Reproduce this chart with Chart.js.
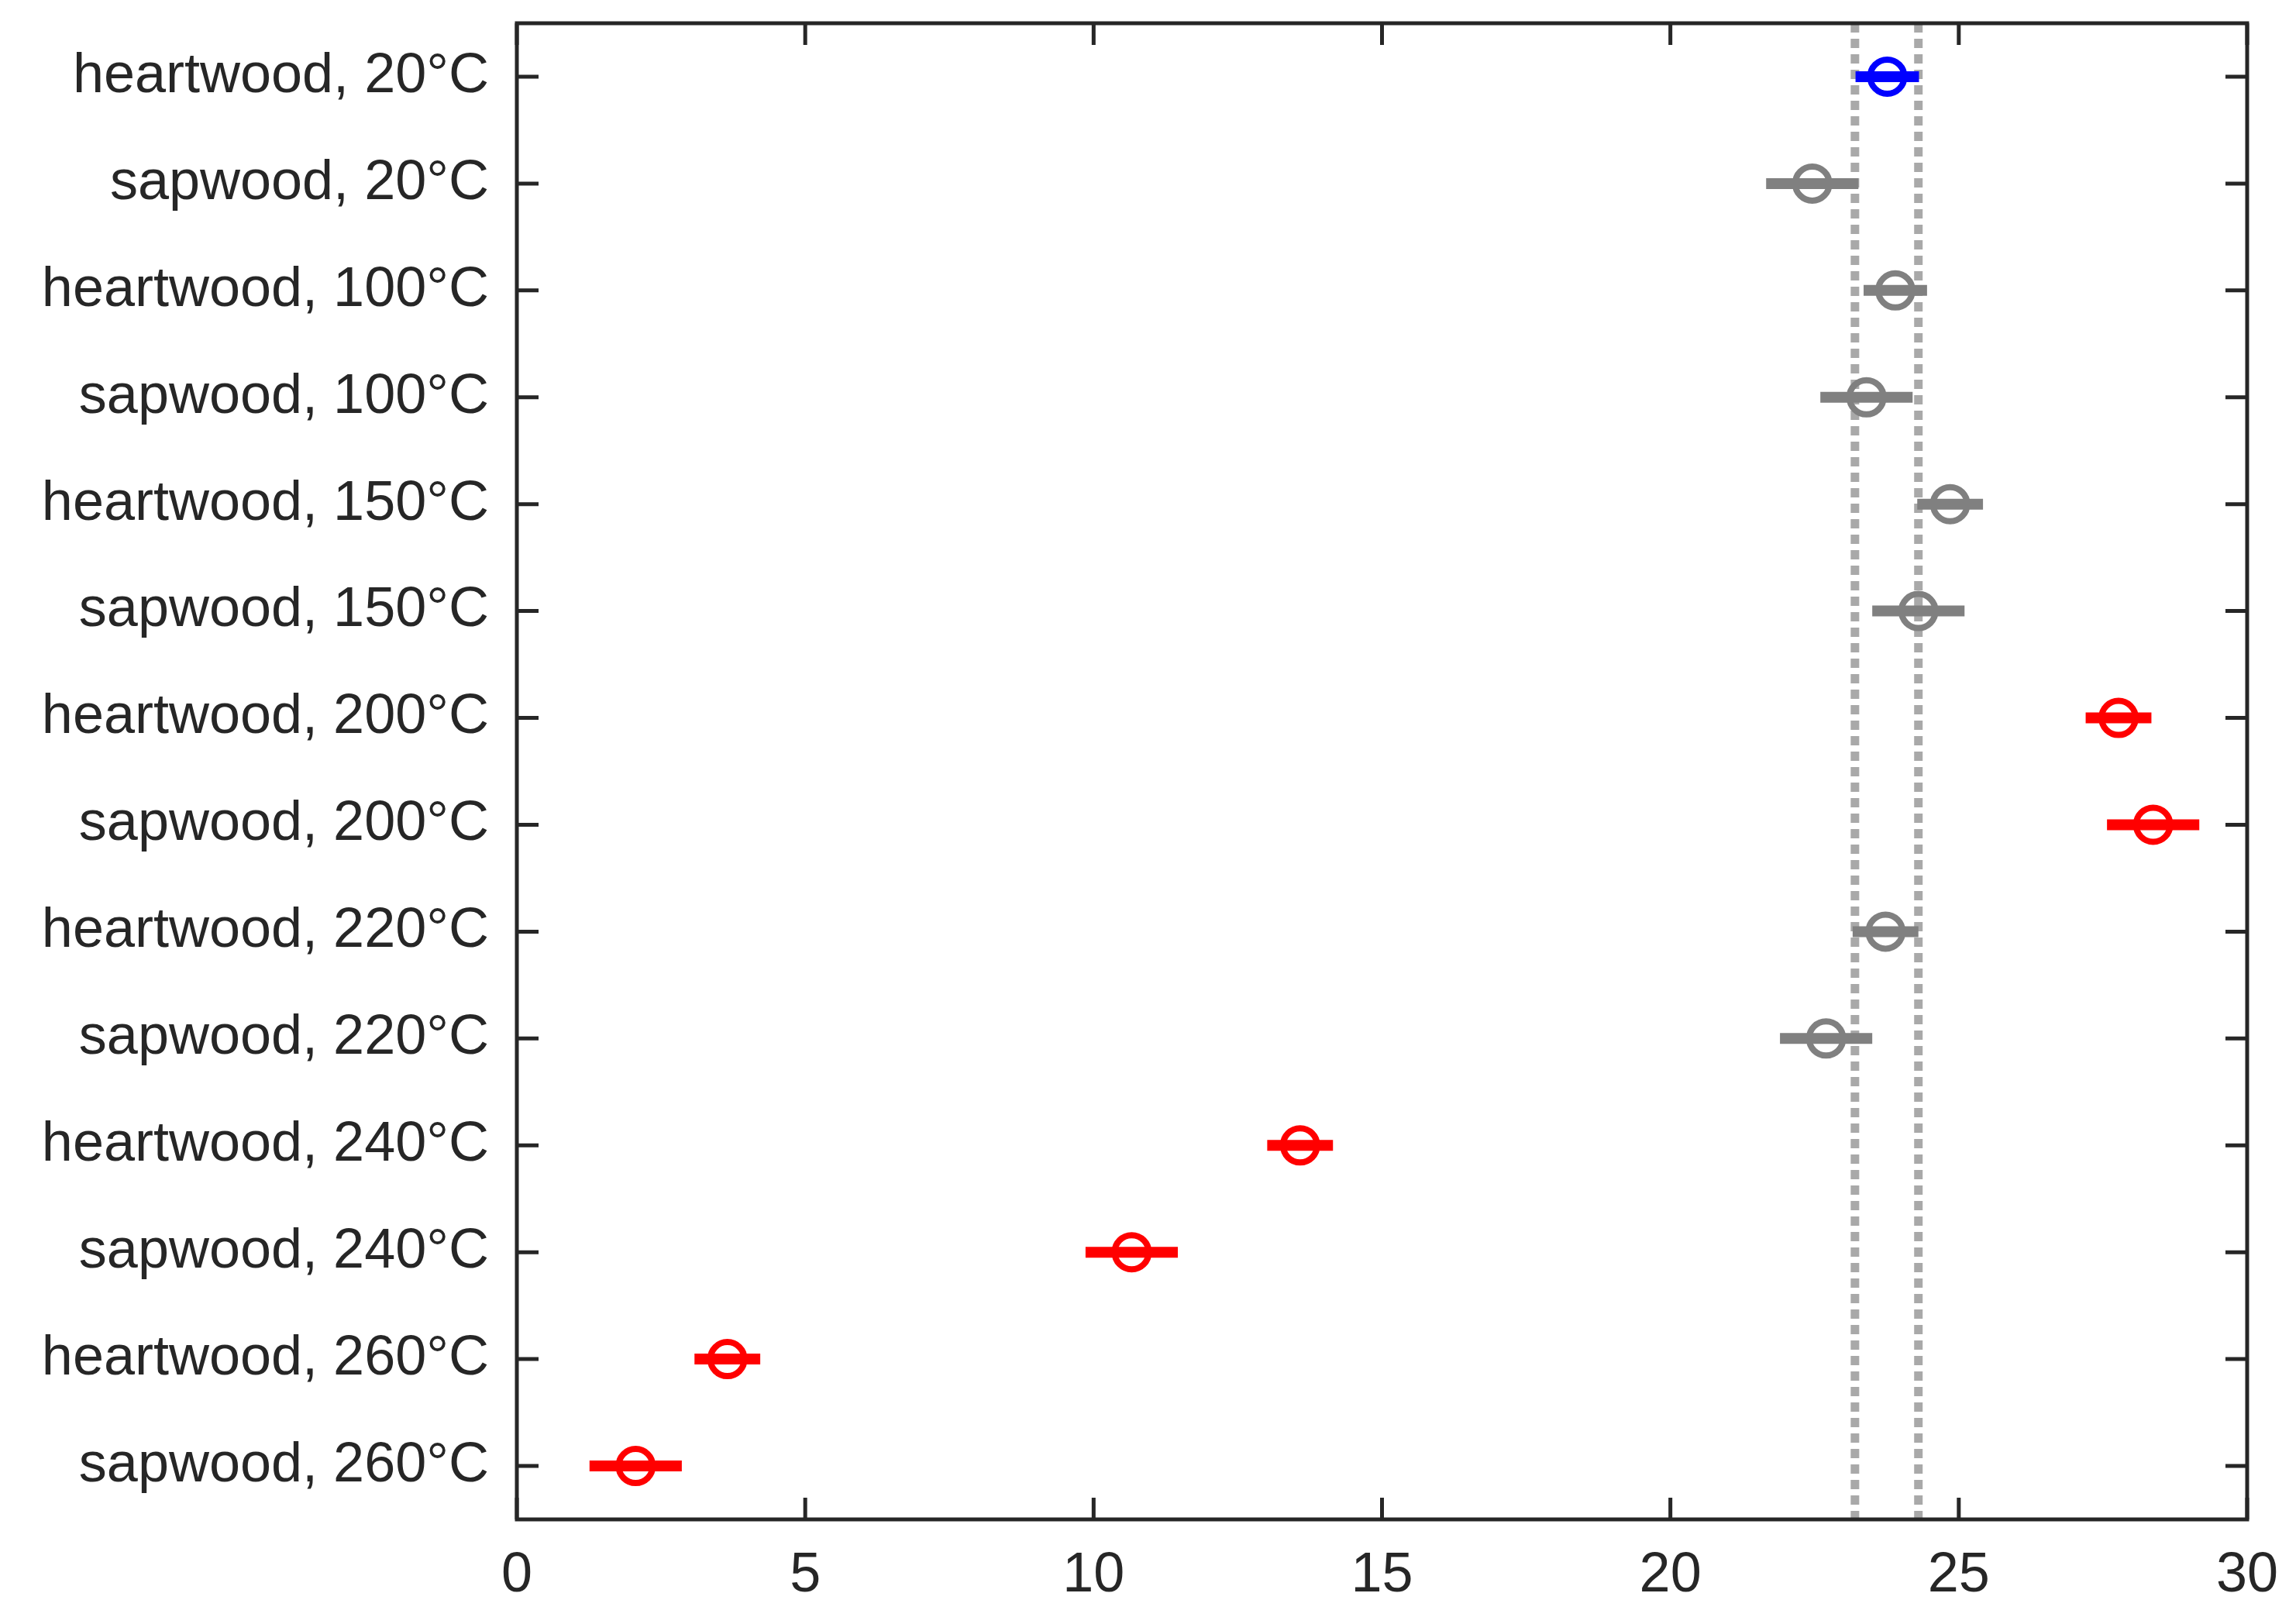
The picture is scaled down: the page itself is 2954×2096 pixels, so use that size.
<!DOCTYPE html>
<html><head><meta charset="utf-8">
<script src="https://cdn.jsdelivr.net/npm/chart.js@4/dist/chart.umd.min.js"></script>
<style>html,body{margin:0;padding:0;background:#fff}#c{display:block}</style>
</head><body>
<div style="width:2954px;height:2096px"><canvas id="c"></canvas></div>
<script>
const categories = ["heartwood, 20°C","sapwood, 20°C","heartwood, 100°C","sapwood, 100°C","heartwood, 150°C","sapwood, 150°C","heartwood, 200°C","sapwood, 200°C","heartwood, 220°C","sapwood, 220°C","heartwood, 240°C","sapwood, 240°C","heartwood, 260°C","sapwood, 260°C"];
const means  = [23.76,22.46,23.9,23.4,24.85,24.3,27.77,28.37,23.73,22.7,13.58,10.66,3.65,2.06];
const errors = [0.55,0.8,0.55,0.8,0.57,0.8,0.57,0.8,0.57,0.8,0.57,0.8,0.57,0.8];
const pointColors = ["#0000ff","#808080","#808080","#808080","#808080","#808080","#ff0000","#ff0000","#808080","#808080","#ff0000","#ff0000","#ff0000","#ff0000"];
const refLines = [23.2, 24.3];
const xTicks = [0,5,10,15,20,25,30];

const FONT = "Arial, 'Liberation Sans', sans-serif";
const pts = means.map((v,i)=>({x:v,y:i}));

const plugin = {
  id:'extras',
  beforeDatasetsDraw(chart){
    const {ctx, scales:{x,y}, chartArea:a} = chart;
    ctx.save();
    ctx.strokeStyle='#a9a9a9'; ctx.lineWidth=11; ctx.setLineDash([12,8]);
    refLines.forEach(v=>{const px=x.getPixelForValue(v);ctx.beginPath();ctx.moveTo(px,a.top);ctx.lineTo(px,a.bottom);ctx.stroke();});
    ctx.setLineDash([]);
    ctx.lineWidth=14; ctx.lineCap='butt';
    means.forEach((m,i)=>{
      ctx.strokeStyle=pointColors[i];
      const py=y.getPixelForValue(i);
      ctx.beginPath();ctx.moveTo(x.getPixelForValue(m-errors[i]),py);ctx.lineTo(x.getPixelForValue(m+errors[i]),py);ctx.stroke();
    });
    ctx.restore();
  },
  afterDraw(chart){
    const {ctx, scales:{x,y}, chartArea:a} = chart;
    ctx.save();
    ctx.strokeStyle='#262626'; ctx.lineWidth=5;
    ctx.strokeRect(a.left,a.top,a.right-a.left,a.bottom-a.top);
    const L=28;
    ctx.beginPath();
    xTicks.forEach(v=>{const px=x.getPixelForValue(v);ctx.moveTo(px,a.bottom);ctx.lineTo(px,a.bottom-L);ctx.moveTo(px,a.top);ctx.lineTo(px,a.top+L);});
    categories.forEach((c,i)=>{const py=y.getPixelForValue(i);ctx.moveTo(a.left,py);ctx.lineTo(a.left+L,py);ctx.moveTo(a.right,py);ctx.lineTo(a.right-L,py);});
    ctx.stroke();
    ctx.restore();
  }
};

new Chart(document.getElementById('c'),{
  type:'scatter',
  data:{datasets:[{data:pts,pointStyle:'circle',pointRadius:22,pointBorderWidth:8,
    pointBorderColor:pointColors,pointBackgroundColor:'rgba(0,0,0,0)',showLine:false}]},
  options:{
    responsive:true,maintainAspectRatio:false,animation:false,devicePixelRatio:1,
    layout:{padding:{top:22,right:54,bottom:0,left:0}},
    plugins:{legend:{display:false},tooltip:{enabled:false}},
    scales:{
      x:{type:'linear',min:0,max:30,
        afterBuildTicks(s){s.ticks=xTicks.map(v=>({value:v}));},
        grid:{display:false,drawTicks:false},border:{display:false},
        afterFit(s){s.height=135;s.paddingLeft=0;s.paddingRight=0;},
        ticks:{color:'#262626',font:{family:FONT,size:72},padding:30,maxRotation:0}},
      y:{type:'linear',min:-0.5,max:13.5,reverse:true,
        afterBuildTicks(s){s.ticks=categories.map((c,i)=>({value:i}));},
        afterFit(s){s.width=667;s.paddingTop=0;s.paddingBottom=0;},
        grid:{display:false,drawTicks:false},border:{display:false},
        ticks:{color:'#262626',font:{family:FONT,size:72},padding:36,callback:(v)=>categories[v]}}
    }
  },
  plugins:[plugin]
});
</script>
</body></html>
